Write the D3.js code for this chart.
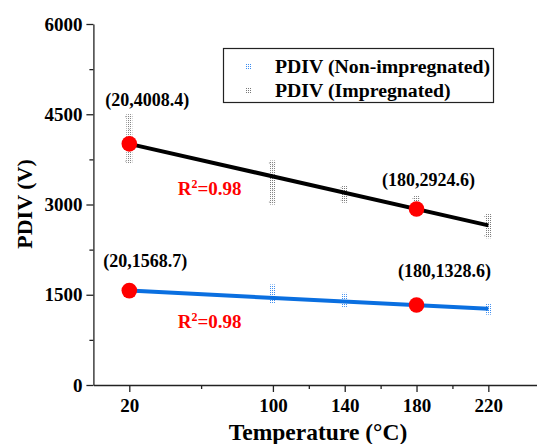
<!DOCTYPE html>
<html>
<head>
<meta charset="utf-8">
<script src="https://cdn.jsdelivr.net/npm/d3@7"></script>
<style>
  html, body { margin: 0; padding: 0; background: #fff; }
  svg { display: block; }
  text { font-family: "Liberation Serif", "Times New Roman", serif; font-weight: bold; }
</style>
</head>
<body>
<svg id="chart" width="537" height="444"></svg>
<script>
// Temperatures where PDIV was measured
const temps = [20, 100, 140, 180, 220];

// Repeated PDIV measurements (V) at each temperature, impregnated samples
const impregnated = [
  [4460, 4380, 4300, 4200, 4120, 4060, 4008, 3960, 3880, 3800, 3720],
  [3690, 3600, 3520, 3440, 3400, 3360, 3320, 3290, 3200, 3120, 3040],
  [3280, 3250, 3200, 3150, 3100, 3070],
  [3100, 3050, 3000, 2950, 2910],
  [2800, 2760, 2700, 2660, 2620, 2580, 2530, 2480]
];

// Repeated PDIV measurements (V), non-impregnated samples
const nonImpregnated = [
  [1620, 1590, 1560, 1530],
  [1630, 1600, 1560, 1520, 1480, 1450, 1410, 1390],
  [1490, 1450, 1420, 1390, 1360, 1330],
  [1370, 1340, 1310],
  [1320, 1290, 1260, 1230, 1210]
];

// Linear fits (end points at 20 °C and 220 °C) and highlighted fitted points
const fitImpregnated = [[20, 4008.4], [220, 2653.6]];
const fitNonImpregnated = [[20, 1568.7], [220, 1268.6]];
const highlighted = [
  { t: 20, v: 4008.4, label: "(20,4008.4)", dx: 18, dy: -38 },
  { t: 180, v: 2924.6, label: "(180,2924.6)", dx: 12, dy: -23 },
  { t: 20, v: 1568.7, label: "(20,1568.7)", dx: 16, dy: -24 },
  { t: 180, v: 1328.6, label: "(180,1328.6)", dx: 28, dy: -28 }
];
const r2Labels = [
  { t: 47, v: 3150, text: "0.98" },
  { t: 47, v: 940, text: "0.98" }
];

// Axis tick values
const yTicks = [0, 1500, 3000, 4500, 6000];
const yMinor = [750, 2250, 3750, 5250];
const xTicks = [20, 100, 140, 180, 220];
const xMinor = [60, 120, 160, 200];

const svg = d3.select("#chart");

const x = d3.scaleLinear().domain([0, 247]).range([93.4, 536.8]);
const y = d3.scaleLinear().domain([0, 6000]).range([385, 24]);

// Hatched square marker patterns
const defs = svg.append("defs");
function hatch(id, color) {
  const p = defs.append("pattern").attr("id", id)
    .attr("patternUnits", "userSpaceOnUse").attr("width", 2).attr("height", 2);
  p.append("rect").attr("width", 2).attr("height", 2).attr("fill", "#fff");
  p.append("rect").attr("width", 1).attr("height", 1).attr("fill", color);
}
hatch("hGray", "#777");
hatch("hBlue", "#3d8df0");

// Axes
const yAxis = svg.append("g").attr("transform", `translate(${x(0)},0)`)
  .call(d3.axisLeft(y).tickValues(yTicks).tickSize(7).tickSizeOuter(0).tickFormat(d3.format("d")));
svg.append("g").attr("transform", `translate(${x(0)},0)`)
  .call(d3.axisLeft(y).tickValues(yMinor).tickSize(4).tickFormat(""))
  .select(".domain").remove();

const xAxis = svg.append("g").attr("transform", `translate(0,${y(0)})`)
  .call(d3.axisBottom(x).tickValues(xTicks).tickSize(7).tickSizeOuter(0).tickPadding(7));
svg.append("g").attr("transform", `translate(0,${y(0)})`)
  .call(d3.axisBottom(x).tickValues(xMinor).tickSize(4).tickFormat(""))
  .select(".domain").remove();

svg.selectAll(".domain").attr("stroke", "#222").attr("stroke-width", 1.3);
svg.selectAll(".tick line").attr("stroke", "#222").attr("stroke-width", 1.3);
yAxis.selectAll("text").attr("font-size", 19).attr("font-family", "Liberation Serif")
  .attr("font-weight", "bold").attr("fill", "#000").attr("x", -11);
xAxis.selectAll("text").attr("font-size", 19).attr("font-family", "Liberation Serif")
  .attr("font-weight", "bold").attr("fill", "#000");

// Axis titles
svg.append("text").attr("x", 318).attr("y", 440).attr("text-anchor", "middle")
  .attr("font-size", 23.5).text("Temperature (°C)");
svg.append("text").attr("transform", "translate(32,204) rotate(-90)")
  .attr("text-anchor", "middle").attr("font-size", 22).text("PDIV (V)");

// Measurement clusters: dotted whisker plus hatched square markers
function cluster(data, fill, stroke, whisker) {
  data.forEach((vals, i) => {
    const cx = x(temps[i]);
    const g = svg.append("g");
    if (whisker) {
      const lo = d3.min(vals), hi = d3.max(vals);
      g.append("line").attr("x1", cx).attr("x2", cx).attr("y1", y(hi)).attr("y2", y(lo))
        .attr("stroke", stroke).attr("stroke-width", 1.2).attr("stroke-dasharray", "1,1");
      [lo, hi].forEach(v => g.append("line").attr("x1", cx - 4).attr("x2", cx + 4)
        .attr("y1", y(v)).attr("y2", y(v)).attr("stroke", stroke).attr("stroke-width", 1)
        .attr("stroke-dasharray", "1,1"));
    }
    g.selectAll("rect").data(vals).join("rect")
      .attr("x", cx - 3).attr("y", d => y(d) - 2.5).attr("width", 6).attr("height", 5)
      .attr("fill", fill).attr("opacity", 0.9);
  });
}
cluster(impregnated, "url(#hGray)", "#888", true);
cluster(nonImpregnated, "url(#hBlue)", "#5b9cf0", false);

// Fitted lines
const line = d3.line().x(d => x(d[0])).y(d => y(d[1]));
svg.append("path").attr("d", line(fitImpregnated)).attr("stroke", "#000")
  .attr("stroke-width", 4).attr("fill", "none");
svg.append("path").attr("d", line(fitNonImpregnated)).attr("stroke", "#0a6fe0")
  .attr("stroke-width", 4).attr("fill", "none");

// Highlighted fitted points and their labels
svg.selectAll(".pt").data(highlighted).join("circle").attr("class", "pt")
  .attr("cx", d => x(d.t)).attr("cy", d => y(d.v)).attr("r", 7.8).attr("fill", "#ff0000");
svg.selectAll(".lbl").data(highlighted).join("text").attr("class", "lbl")
  .attr("x", d => x(d.t) + d.dx).attr("y", d => y(d.v) + d.dy)
  .attr("text-anchor", "middle").attr("font-size", 18).attr("fill", "#000").text(d => d.label);

// Goodness of fit
r2Labels.forEach(d => {
  const t = svg.append("text").attr("x", x(d.t)).attr("y", y(d.v))
    .attr("font-size", 19).attr("fill", "#ff0000");
  t.append("tspan").text("R");
  t.append("tspan").attr("dy", -7).attr("font-size", 12).text("2");
  t.append("tspan").attr("dy", 7).text("=" + d.text);
});

// Legend
const legend = svg.append("g");
legend.append("rect").attr("x", 223.5).attr("y", 48.5).attr("width", 270).attr("height", 54)
  .attr("fill", "#fff").attr("stroke", "#222").attr("stroke-width", 1.2);
const legendItems = [
  { name: "PDIV (Non-impregnated)", fill: "url(#hBlue)" },
  { name: "PDIV (Impregnated)", fill: "url(#hGray)" }
];
legendItems.forEach((d, i) => {
  const cy = 67 + i * 24;
  legend.append("rect").attr("x", 246).attr("y", cy - 3).attr("width", 6).attr("height", 6)
    .attr("fill", d.fill);
  legend.append("text").attr("x", 275).attr("y", cy + 6).attr("font-size", 19.8)
    .attr("fill", "#000").text(d.name);
});
</script>
</body>
</html>
